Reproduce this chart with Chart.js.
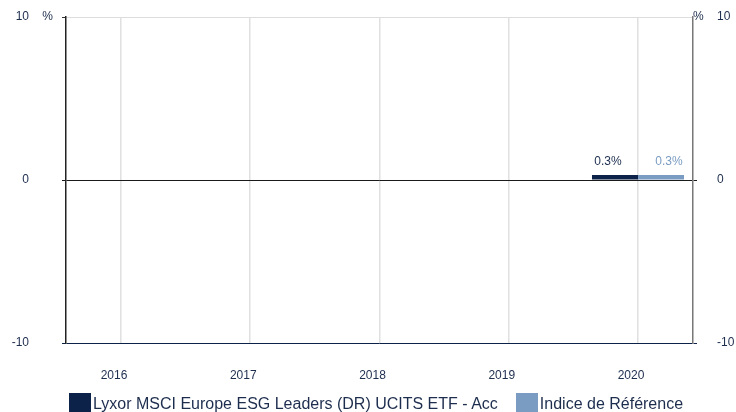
<!DOCTYPE html>
<html>
<head>
<meta charset="utf-8">
<script src="https://cdn.jsdelivr.net/npm/chart.js@4.4.0/dist/chart.umd.min.js"></script>
<style>
    html, body { margin: 0; padding: 0; background: #fff; }
    #wrap { position: relative; width: 736px; height: 412px; overflow: hidden; }
    #legend {
        position: absolute; left: 69px; top: 393px; display: flex;
        font: 16px "Liberation Sans", Arial, sans-serif; color: #1d2d4e;
    }
    .item { display: flex; align-items: flex-start; margin-right: 18px; }
    .box { width: 22px; height: 20px; margin-right: 2px; }
    .lbl { line-height: 20px; margin-top: 1px; white-space: nowrap; }
</style>
</head>
<body>
<div id="wrap">
    <canvas id="chart"></canvas>
    <div id="legend"></div>
</div>
<script>
// Data
const years = ['2016', '2017', '2018', '2019', '2020'];
const fundValues = [null, null, null, null, 0.3];
const indexValues = [null, null, null, null, 0.3];
const seriesNames = ['Lyxor MSCI Europe ESG Leaders (DR) UCITS ETF - Acc', 'Indice de Référence'];
const seriesColors = ['#0c2249', '#7a9cc2'];
const yMin = -10;
const yMax = 10;

const textColor = '#1d2d4e';
const fontFamily = '"Liberation Sans", Arial, sans-serif';

// Turn a values list into {x, y} points on the linear year index
function toPoints(values) {
    const pts = [];
    values.forEach(function(v, i) {
        if (v !== null) pts.push({ x: i, y: v });
    });
    return pts;
}

// Line colours of the horizontal grid: light top, black zero, navy bottom
function gridColor(ctx) {
    const v = ctx.tick.value;
    if (v === 0) return '#1a1a1a';
    if (v === yMin) return '#0c2249';
    return '#dddddd';
}

// Fixed width for a vertical axis, without the label padding on top/bottom
function fixWidth(w) {
    return function(scale) {
        scale.width = w;
        scale.paddingTop = 0;
        scale.paddingBottom = 0;
    };
}

// Values above the bars
const valueLabels = {
    id: 'valueLabels',
    afterDatasetsDraw: function(chart) {
        const ctx = chart.ctx;
        ctx.save();
        ctx.font = '12px ' + fontFamily;
        ctx.textAlign = 'center';
        ctx.textBaseline = 'alphabetic';
        chart.data.datasets.forEach(function(ds, i) {
            chart.getDatasetMeta(i).data.forEach(function(bar, j) {
                ctx.fillStyle = ds.labelColor;
                ctx.fillText(ds.data[j].y.toFixed(1) + '%', bar.x + ds.labelShift, bar.y - 10);
            });
        });
        ctx.restore();
    }
};

// "%" unit marks next to the top tick of both axes
const unitMarks = {
    id: 'unitMarks',
    afterDraw: function(chart) {
        const ctx = chart.ctx;
        const left = chart.scales.y;
        const right = chart.scales.y2;
        ctx.save();
        ctx.font = '12px ' + fontFamily;
        ctx.fillStyle = textColor;
        ctx.textBaseline = 'middle';
        ctx.textAlign = 'right';
        ctx.fillText('%', left.right - 13, left.getPixelForValue(yMax));
        ctx.textAlign = 'left';
        ctx.fillText('%', right.left, right.getPixelForValue(yMax));
        ctx.restore();
    }
};

new Chart(document.getElementById('chart').getContext('2d'), {
    type: 'bar',
    data: {
        datasets: [
            {
                label: seriesNames[0],
                data: toPoints(fundValues),
                backgroundColor: seriesColors[0],
                labelColor: textColor,
                labelShift: -7
            },
            {
                label: seriesNames[1],
                data: toPoints(indexValues),
                backgroundColor: seriesColors[1],
                labelColor: seriesColors[1],
                labelShift: 8
            }
        ]
    },
    options: {
        responsive: true,
        maintainAspectRatio: false,
        animation: false,
        categoryPercentage: 0.712,
        barPercentage: 1.0,
        layout: { padding: { top: 17, left: 0, right: 0, bottom: 0 } },
        plugins: {
            legend: { display: false },
            tooltip: { enabled: false }
        },
        scales: {
            x: {
                type: 'linear',
                min: -0.4255,
                max: 4.4255,
                offset: false,
                afterFit: function(scale) { scale.height = 69; },
                grid: { offset: false, drawTicks: false, color: '#e0e0e0', lineWidth: 1.5 },
                border: { display: false },
                ticks: {
                    stepSize: 1,
                    includeBounds: false,
                    padding: 25,
                    labelOffset: -7,
                    color: textColor,
                    font: { family: fontFamily, size: 12 },
                    callback: function(v) { return years[v] !== undefined ? years[v] : ''; }
                }
            },
            y: {
                position: 'left',
                min: yMin,
                max: yMax,
                afterFit: fixWidth(66),
                grid: {
                    color: gridColor,
                    tickColor: function(ctx) { return ctx.tick.value === yMax ? '#333333' : gridColor(ctx); },
                    tickLength: 4
                },
                border: { color: '#222222', width: 1.5 },
                ticks: {
                    stepSize: 10,
                    padding: 33,
                    color: textColor,
                    font: { family: fontFamily, size: 12 }
                }
            },
            y2: {
                position: 'right',
                min: yMin,
                max: yMax,
                afterFit: fixWidth(43),
                grid: {
                    drawOnChartArea: false,
                    tickColor: function(ctx) { return ctx.tick.value === yMax ? 'rgba(0,0,0,0)' : gridColor(ctx); },
                    tickLength: 4
                },
                border: { color: '#777777', width: 1.5 },
                ticks: {
                    stepSize: 10,
                    padding: 20,
                    color: textColor,
                    font: { family: fontFamily, size: 12 }
                }
            }
        }
    },
    plugins: [valueLabels, unitMarks]
});

// Legend built from the series names and colours
const legend = document.getElementById('legend');
seriesNames.forEach(function(name, i) {
    const item = document.createElement('div');
    item.className = 'item';
    const box = document.createElement('span');
    box.className = 'box';
    box.style.background = seriesColors[i];
    const lbl = document.createElement('span');
    lbl.className = 'lbl';
    lbl.textContent = name;
    item.appendChild(box);
    item.appendChild(lbl);
    legend.appendChild(item);
});
</script>
</body>
</html>
